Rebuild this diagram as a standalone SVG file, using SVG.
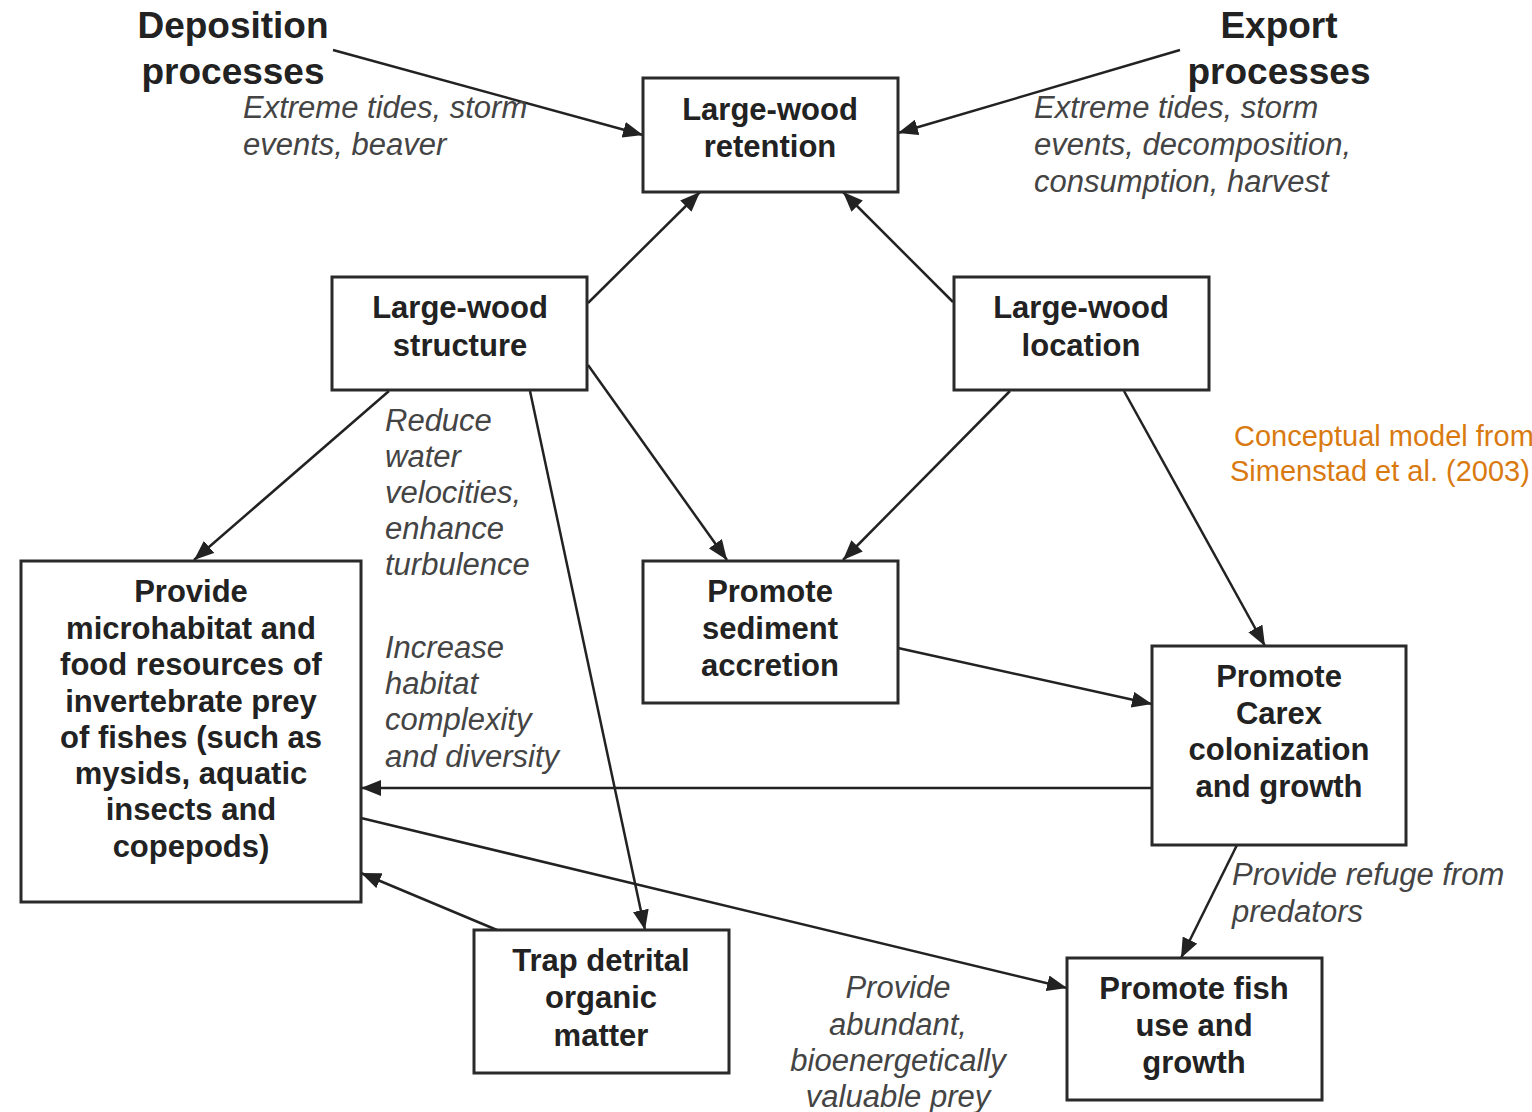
<svg xmlns="http://www.w3.org/2000/svg" width="1532" height="1112" viewBox="0 0 1532 1112">
<style>
.box{fill:#fff;stroke:#2a2a2a;stroke-width:3}
.nt{font-family:"Liberation Sans",Arial,sans-serif;font-weight:bold;font-size:31px;fill:#222;text-anchor:middle}
.tt{font-family:"Liberation Sans",Arial,sans-serif;font-weight:bold;font-size:37px;fill:#222;text-anchor:middle}
.it{font-family:"Liberation Sans",Arial,sans-serif;font-style:italic;font-size:31px;fill:#444}
.or{font-family:"Liberation Sans",Arial,sans-serif;font-size:29px;fill:#d97a11}
.cn{stroke:#222;stroke-width:2.5;fill:none;marker-end:url(#ah)}
</style>
<defs>
<marker id="ah" markerUnits="userSpaceOnUse" markerWidth="22" markerHeight="16" refX="20" refY="8" orient="auto">
<path d="M0,0 L20,8 L0,16 Z" fill="#222"/>
</marker>
</defs>
<rect width="1532" height="1112" fill="#fff"/>

<g id="connectors">
<line class="cn" x1="333" y1="50" x2="643" y2="135"/>
<line class="cn" x1="1180" y1="50" x2="898" y2="133"/>
<line class="cn" x1="588" y1="303" x2="700" y2="192"/>
<line class="cn" x1="953" y1="302" x2="843" y2="192"/>
<line class="cn" x1="389" y1="391" x2="194" y2="560"/>
<line class="cn" x1="530" y1="391" x2="645" y2="930"/>
<line class="cn" x1="588" y1="365" x2="727" y2="560"/>
<line class="cn" x1="1010" y1="391" x2="843" y2="560"/>
<line class="cn" x1="1124" y1="391" x2="1265" y2="646"/>
<line class="cn" x1="898" y1="648" x2="1152" y2="704"/>
<line class="cn" x1="1152" y1="788" x2="361" y2="788"/>
<line class="cn" x1="361" y1="818" x2="1067" y2="988"/>
<line class="cn" x1="497" y1="930" x2="361" y2="873"/>
<line class="cn" x1="1237" y1="845" x2="1181" y2="958"/>
</g>

<g id="deposition">
<text class="tt" x="233" y="38">Deposition</text>
<text class="tt" x="233" y="84">processes</text>
</g>
<g id="export">
<text class="tt" x="1279" y="38">Export</text>
<text class="tt" x="1279" y="84">processes</text>
</g>

<g id="retention">
<rect class="box" x="643" y="78" width="255" height="114"/>
<text class="nt" x="770" y="120">Large-wood</text>
<text class="nt" x="770" y="157">retention</text>
</g>
<g id="structure">
<rect class="box" x="332" y="277" width="255" height="113"/>
<text class="nt" x="460" y="318">Large-wood</text>
<text class="nt" x="460" y="356">structure</text>
</g>
<g id="location">
<rect class="box" x="954" y="277" width="255" height="113"/>
<text class="nt" x="1081" y="318">Large-wood</text>
<text class="nt" x="1081" y="356">location</text>
</g>
<g id="microhabitat">
<rect class="box" x="21" y="561" width="340" height="341"/>
<text class="nt" x="191" y="602">Provide</text>
<text class="nt" x="191" y="639">microhabitat and</text>
<text class="nt" x="191" y="675">food resources of</text>
<text class="nt" x="191" y="712">invertebrate prey</text>
<text class="nt" x="191" y="748">of fishes (such as</text>
<text class="nt" x="191" y="784">mysids, aquatic</text>
<text class="nt" x="191" y="820">insects and</text>
<text class="nt" x="191" y="857">copepods)</text>
</g>
<g id="sediment">
<rect class="box" x="643" y="561" width="255" height="142"/>
<text class="nt" x="770" y="602">Promote</text>
<text class="nt" x="770" y="639">sediment</text>
<text class="nt" x="770" y="676">accretion</text>
</g>
<g id="carex">
<rect class="box" x="1152" y="646" width="254" height="199"/>
<text class="nt" x="1279" y="687">Promote</text>
<text class="nt" x="1279" y="724">Carex</text>
<text class="nt" x="1279" y="760">colonization</text>
<text class="nt" x="1279" y="797">and growth</text>
</g>
<g id="trap">
<rect class="box" x="474" y="930" width="255" height="143"/>
<text class="nt" x="601" y="971">Trap detrital</text>
<text class="nt" x="601" y="1008">organic</text>
<text class="nt" x="601" y="1046">matter</text>
</g>
<g id="fish">
<rect class="box" x="1067" y="958" width="255" height="142"/>
<text class="nt" x="1194" y="999">Promote fish</text>
<text class="nt" x="1194" y="1036">use and</text>
<text class="nt" x="1194" y="1073">growth</text>
</g>

<g id="labels">
<text class="it" x="243" y="118">Extreme tides, storm</text>
<text class="it" x="243" y="155">events, beaver</text>
<text class="it" x="1034" y="118">Extreme tides, storm</text>
<text class="it" x="1034" y="155">events, decomposition,</text>
<text class="it" x="1034" y="192">consumption, harvest</text>
<text class="it" x="385" y="431">Reduce</text>
<text class="it" x="385" y="467">water</text>
<text class="it" x="385" y="503">velocities,</text>
<text class="it" x="385" y="539">enhance</text>
<text class="it" x="385" y="575">turbulence</text>
<text class="it" x="385" y="658">Increase</text>
<text class="it" x="385" y="694">habitat</text>
<text class="it" x="385" y="730">complexity</text>
<text class="it" x="385" y="767">and diversity</text>
<text class="it" x="1232" y="885">Provide refuge from</text>
<text class="it" x="1232" y="922">predators</text>
<text class="it" x="898" y="998" text-anchor="middle">Provide</text>
<text class="it" x="898" y="1035" text-anchor="middle">abundant,</text>
<text class="it" x="898" y="1071" text-anchor="middle">bioenergetically</text>
<text class="it" x="898" y="1107" text-anchor="middle">valuable prey</text>
</g>

<g id="note">
<text class="or" x="1234" y="446">Conceptual model from</text>
<text class="or" x="1230" y="481">Simenstad et al. (2003)</text>
</g>
</svg>
